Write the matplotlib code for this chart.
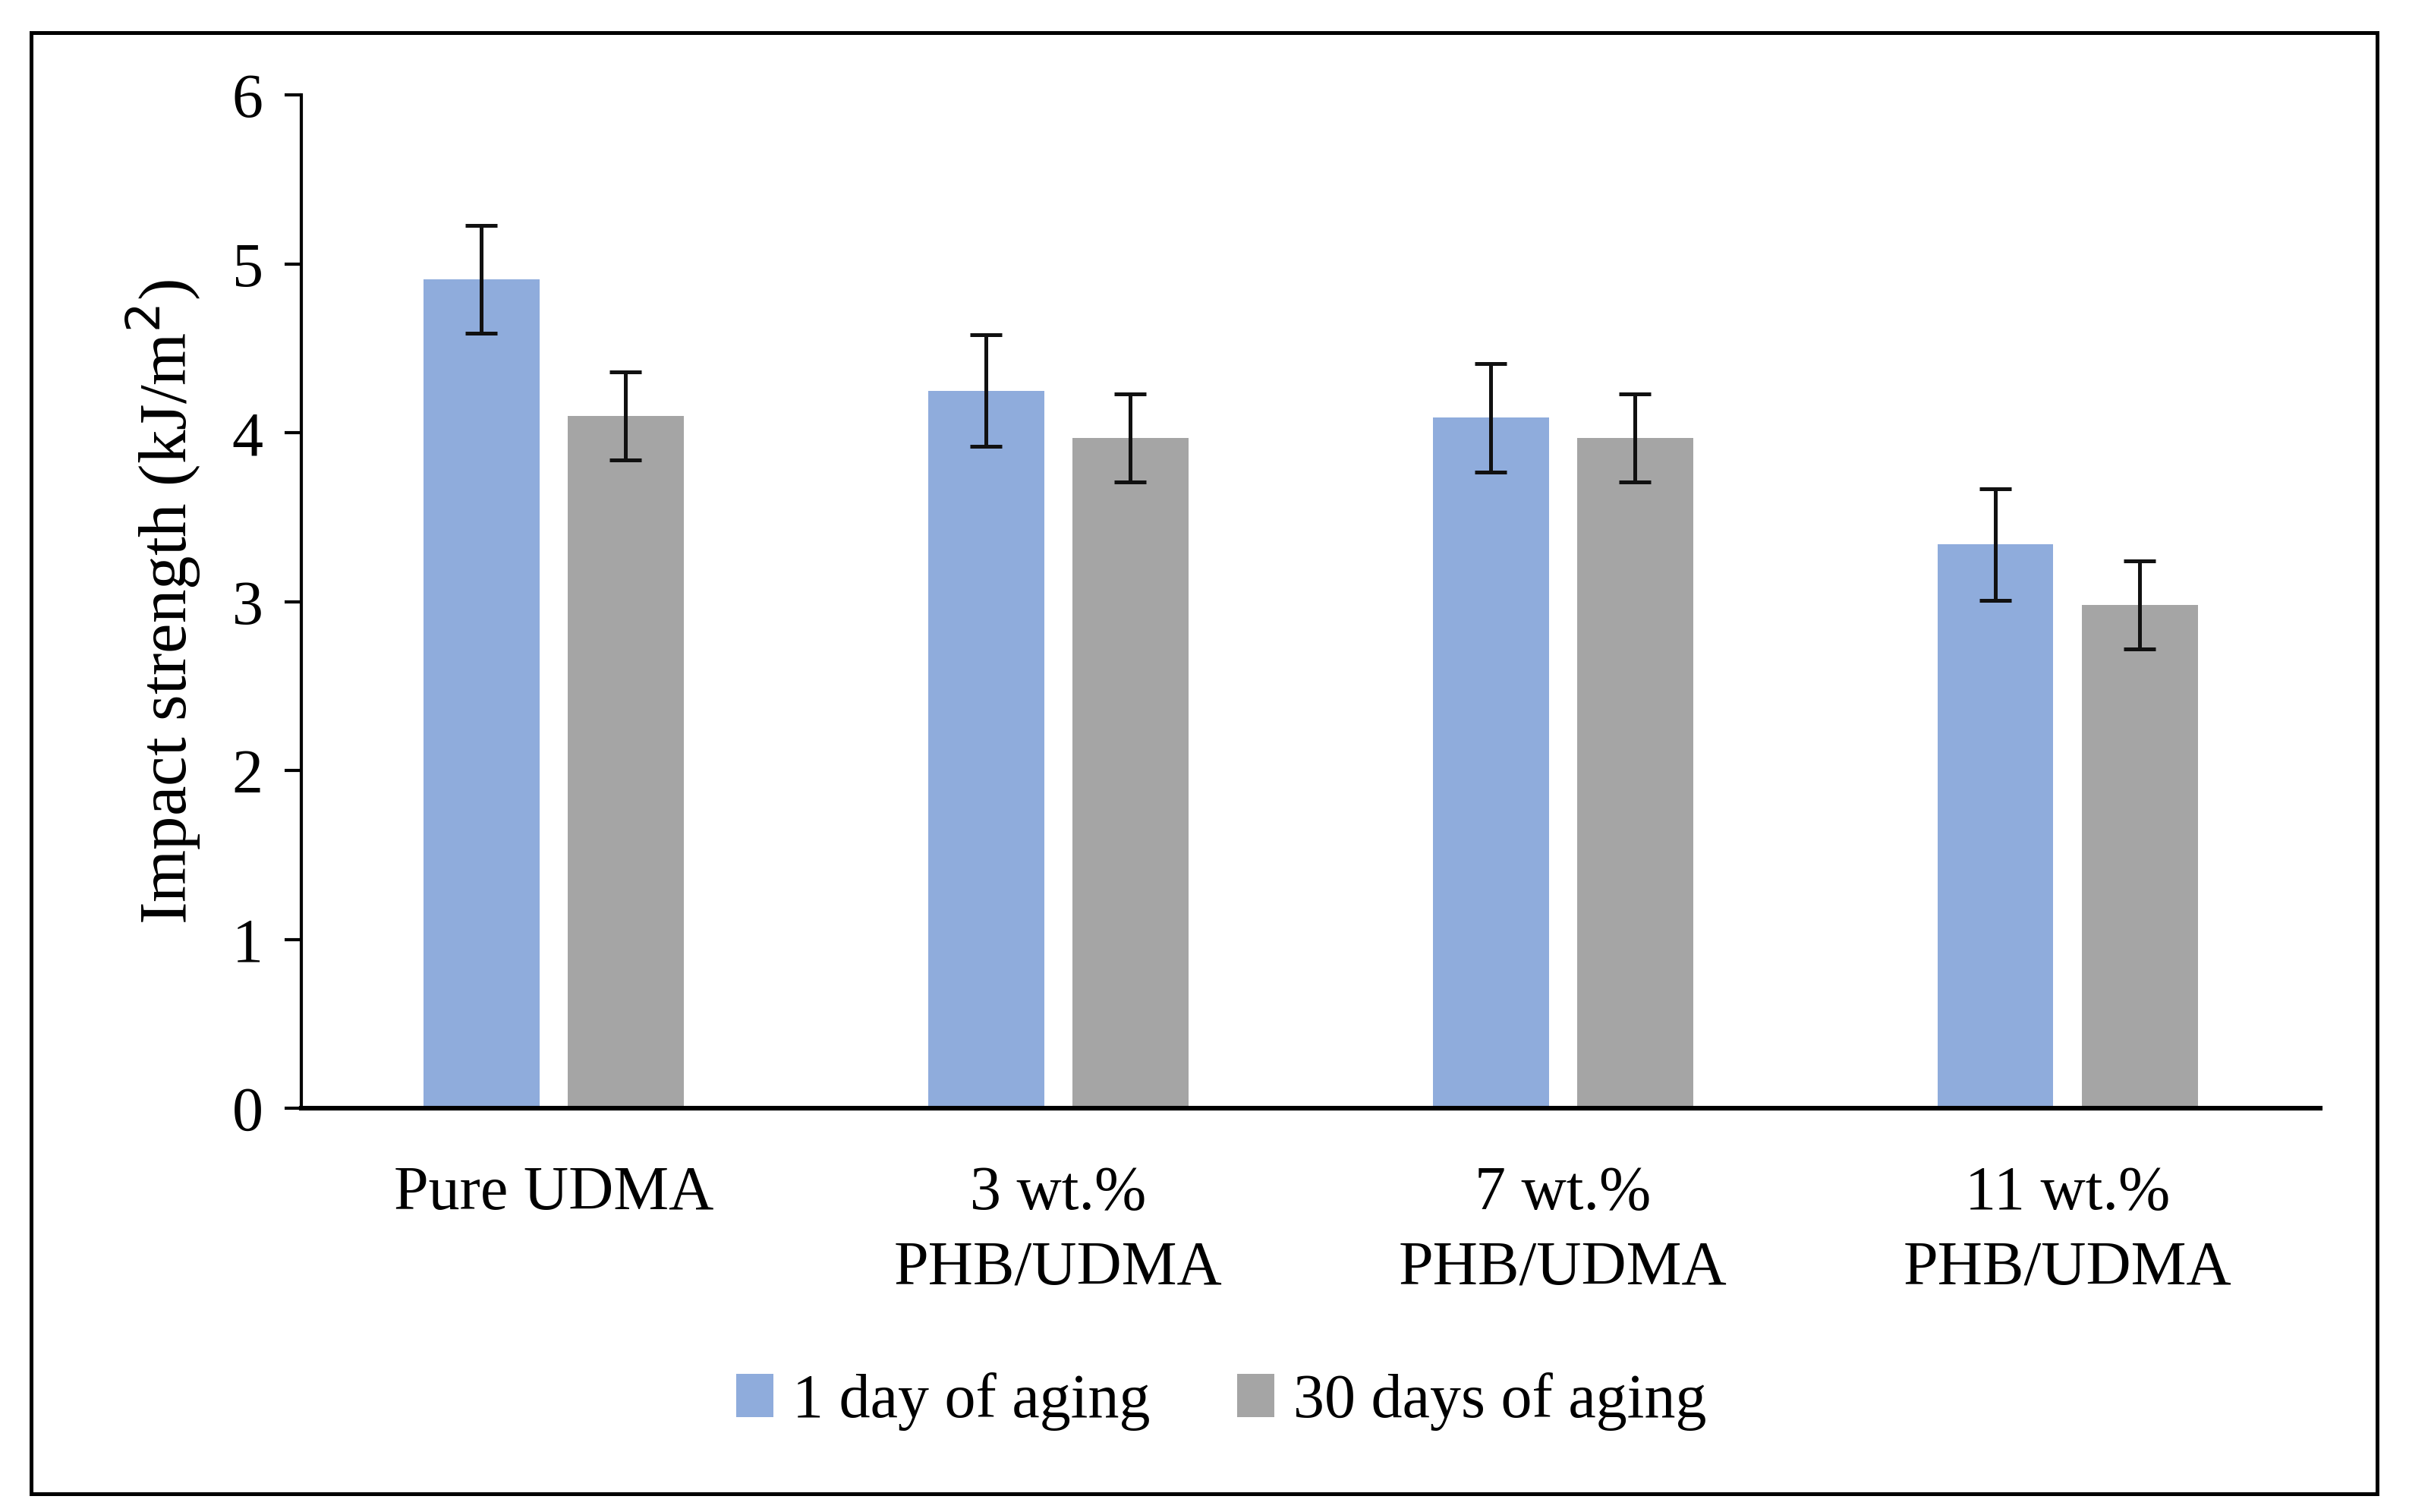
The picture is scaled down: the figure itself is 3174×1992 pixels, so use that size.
import matplotlib.pyplot as plt
from matplotlib.patches import Rectangle
import numpy as np

plt.rcParams['font.family'] = ['Liberation Serif', 'DejaVu Serif']

# data
categories = ['Pure UDMA', '3 wt.%\nPHB/UDMA', '7 wt.%\nPHB/UDMA', '11 wt.%\nPHB/UDMA']
day1 = [4.91, 4.25, 4.09, 3.34]
day1_err = [0.32, 0.33, 0.32, 0.33]
day30 = [4.10, 3.97, 3.97, 2.98]
day30_err = [0.26, 0.26, 0.26, 0.26]
series_names = ['1 day of aging', '30 days of aging']

fig = plt.figure(figsize=(15.87, 9.96), dpi=200)
ax = fig.add_axes([0.125, 0.267, 0.838, 0.670])

x = np.arange(len(categories))
w = 0.23
off = 0.143
ek = dict(ecolor='#111111', elinewidth=1.8, capsize=7.5, capthick=1.8)
ax.bar(x - off, day1, w, yerr=day1_err, color='#8FACDC', label=series_names[0], error_kw=ek)
ax.bar(x + off, day30, w, yerr=day30_err, color='#A5A5A5', label=series_names[1], error_kw=ek)

fs = 29.5
ax.set_xlim(-0.5, 3.5)
ax.set_ylim(0, 6)
ax.set_yticks(range(7))
ax.set_xticks(x)
ax.set_xticklabels(categories, linespacing=1.4)
ax.tick_params(axis='x', length=0, pad=27, labelsize=fs)
ax.tick_params(axis='y', length=8, width=1.5, pad=10, labelsize=fs)
ax.spines['top'].set_visible(False)
ax.spines['right'].set_visible(False)
ax.spines['left'].set_linewidth(1.5)
ax.spines['bottom'].set_linewidth(2.2)
ax.set_ylabel('Impact strength (kJ/m$^2$)', fontsize=32, labelpad=14)

fig.legend(loc='center', bbox_to_anchor=(0.507, 0.073), ncol=2, frameon=False,
           fontsize=fs, handlelength=0.6, handleheight=0.7, handletextpad=0.3,
           columnspacing=1.4)

fig.patches.append(Rectangle((0.0128, 0.0122), 0.974, 0.966, transform=fig.transFigure,
                             fill=False, edgecolor='black', linewidth=1.8))

fig.savefig('out.png', dpi=200)
